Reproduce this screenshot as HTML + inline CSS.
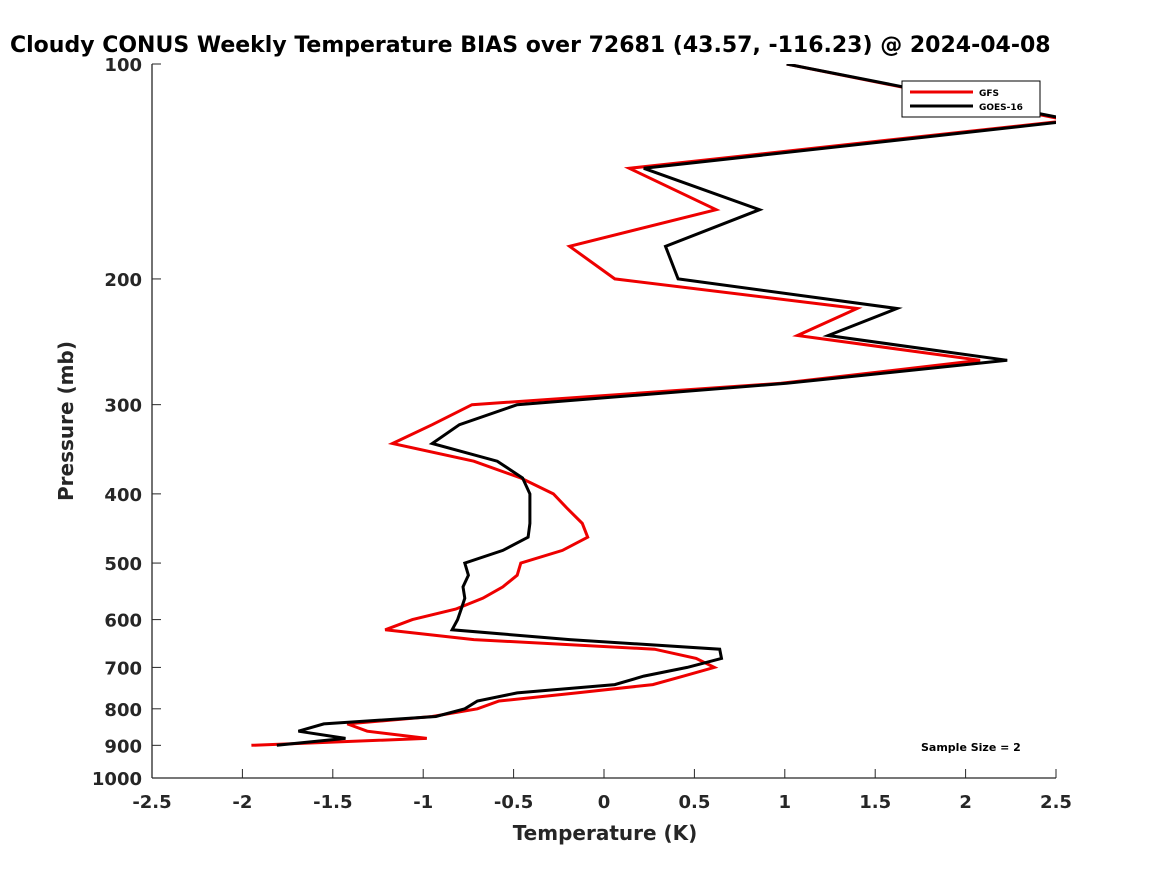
<!DOCTYPE html>
<html><head><meta charset="utf-8"><style>
body{margin:0;background:#fff;overflow:hidden;}
svg{font-family:"DejaVu Sans","Liberation Sans",sans-serif;font-weight:bold;}
</style></head><body>
<svg width="1167" height="875">
<defs><clipPath id="pa"><rect x="152" y="64" width="904" height="714"/></clipPath></defs>
<text x="10" y="52" font-size="22" fill="#000">Cloudy CONUS Weekly Temperature BIAS over 72681 (43.57, -116.23) @ 2024-04-08</text>
<g id="axes"></g>
<g id="lines" clip-path="url(#pa)"></g>
<text x="605" y="840" font-size="20" text-anchor="middle" fill="#262626">Temperature (K)</text>
<text transform="translate(73,421) rotate(-90)" font-size="20" text-anchor="middle" fill="#262626">Pressure (mb)</text>
<g>
<rect x="902" y="81" width="138" height="36" fill="#fff" stroke="#000" stroke-width="1"/>
<line x1="910" y1="92" x2="973" y2="92" stroke="#e00" stroke-width="3"/>
<text x="979" y="96" font-size="9">GFS</text>
<line x1="910" y1="106" x2="973" y2="106" stroke="#000" stroke-width="3"/>
<text x="979" y="110" font-size="9">GOES-16</text>
</g>
<text x="921" y="751" font-size="11">Sample Size = 2</text>
</svg>
<script>
const pressures=[100,120,140,160,180,200,220,240,260,280,300,320,340,360,380,400,420,440,460,480,500,520,540,560,580,600,620,640,660,680,700,720,740,760,780,800,820,840,860,880,900];
const gfs=[1.01,2.57,0.14,0.62,-0.19,0.06,1.40,1.07,2.08,0.98,-0.73,-0.95,-1.17,-0.72,-0.46,-0.28,-0.20,-0.12,-0.09,-0.23,-0.46,-0.48,-0.56,-0.67,-0.82,-1.06,-1.21,-0.72,0.28,0.51,0.61,0.44,0.27,-0.15,-0.58,-0.70,-0.95,-1.42,-1.31,-0.98,-1.95];
const goes=[1.01,2.60,0.22,0.86,0.34,0.41,1.62,1.24,2.23,1.01,-0.48,-0.80,-0.95,-0.59,-0.45,-0.41,-0.41,-0.41,-0.42,-0.56,-0.77,-0.75,-0.78,-0.77,-0.79,-0.81,-0.84,-0.19,0.64,0.65,0.46,0.22,0.06,-0.48,-0.70,-0.77,-0.93,-1.55,-1.69,-1.43,-1.81];
const xTicks=[-2.5,-2,-1.5,-1,-0.5,0,0.5,1,1.5,2,2.5];
const yTicks=[100,200,300,400,500,600,700,800,900,1000];
const NS='http://www.w3.org/2000/svg';
function xs(t){return 152+(t+2.5)/5*904;}
function ys(p){return 64+Math.log10(p/100)*714;}
const axes=document.getElementById('axes');
function mk(tag,attrs,parent){const e=document.createElementNS(NS,tag);for(const k in attrs)e.setAttribute(k,attrs[k]);parent.appendChild(e);return e;}
const ya=mk('line',{x1:152,y1:64,x2:152,y2:778,stroke:'#262626','stroke-width':1.3},axes);


const xa=mk('line',{x1:152,y1:778,x2:1056,y2:778,stroke:'#262626','stroke-width':1.3},axes);


xTicks.forEach(t=>{
  const x=xs(t);
  mk('line',{x1:x,y1:778,x2:x,y2:769,stroke:'#262626','stroke-width':1},axes);
  const tx=mk('text',{x:x,y:808,'font-size':18,'text-anchor':'middle',fill:'#262626'},axes);
  tx.textContent=String(t);
  
  
});
yTicks.forEach(p=>{
  const y=ys(p);
  mk('line',{x1:152,y1:y,x2:161,y2:y,stroke:'#262626','stroke-width':1},axes);
  const tx=mk('text',{x:142,y:y+7,'font-size':18,'text-anchor':'end',fill:'#262626'},axes);
  tx.textContent=String(p);
  
  
});
const lines=document.getElementById('lines');
function draw(vals,color,name){
  const pts=vals.map((v,i)=>xs(v).toFixed(1)+','+ys(pressures[i]).toFixed(1)).join(' ');
  const pl=mk('polyline',{points:pts,fill:'none',stroke:color,'stroke-width':3,'stroke-linejoin':'miter'},lines);
  
  
}
draw(gfs,'#e00','gfs-line');
draw(goes,'#000','goes16-line');
</script>
</body></html>
